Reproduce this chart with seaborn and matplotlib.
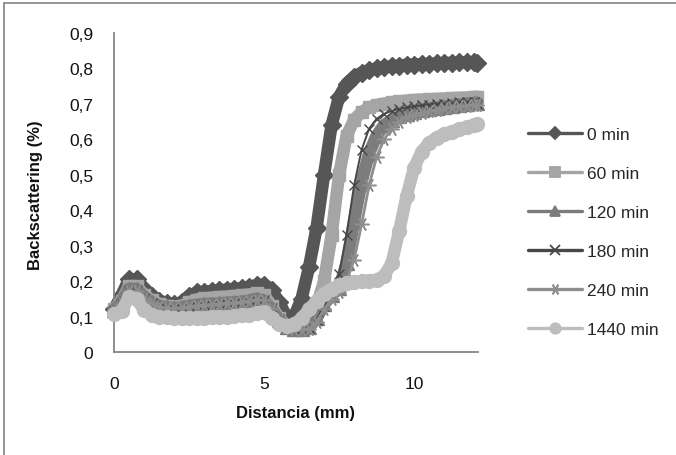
import numpy as np
import pandas as pd
import matplotlib
matplotlib.use("Agg")
import matplotlib.pyplot as plt
from matplotlib.lines import Line2D
import seaborn as sns

# Backscattering profiles along the measuring cell, one per storage time
distance_mm = [0.0, 0.25, 0.5, 0.75, 1.0, 1.25, 1.5, 1.75, 2.0, 2.25,
               2.5, 2.75, 3.0, 3.25, 3.5, 3.75, 4.0, 4.25, 4.5, 4.75,
               5.0, 5.25, 5.5, 5.75, 6.0, 6.25, 6.5, 6.75, 7.0, 7.25,
               7.5, 7.75, 8.0, 8.25, 8.5, 8.75, 9.0, 9.25, 9.5, 9.75,
               10.0, 10.25, 10.5, 10.75, 11.0, 11.25, 11.5, 11.75, 12.0, 12.1]

series_labels = ["0 min", "60 min", "120 min", "180 min", "240 min", "1440 min"]

bs_0 = [0.120, 0.160, 0.205, 0.205, 0.178, 0.158, 0.145, 0.138, 0.135, 0.140,
        0.158, 0.168, 0.170, 0.172, 0.174, 0.176, 0.178, 0.180, 0.184, 0.189,
        0.190, 0.175, 0.140, 0.100, 0.100, 0.150, 0.240, 0.350, 0.500, 0.640,
        0.720, 0.757, 0.776, 0.788, 0.795, 0.800, 0.803, 0.806, 0.808, 0.810,
        0.811, 0.812, 0.813, 0.814, 0.815, 0.816, 0.817, 0.817, 0.818, 0.815]
bs_60 = [0.120, 0.145, 0.185, 0.185, 0.162, 0.146, 0.136, 0.130, 0.128, 0.130,
         0.140, 0.148, 0.151, 0.153, 0.155, 0.156, 0.158, 0.160, 0.162, 0.166,
         0.160, 0.130, 0.095, 0.075, 0.070, 0.072, 0.090, 0.130, 0.200, 0.330,
         0.500, 0.610, 0.655, 0.677, 0.690, 0.697, 0.701, 0.704, 0.707, 0.709,
         0.711, 0.712, 0.713, 0.714, 0.715, 0.716, 0.717, 0.718, 0.719, 0.720]
bs_120 = [0.118, 0.140, 0.178, 0.178, 0.155, 0.140, 0.130, 0.126, 0.124, 0.126,
          0.130, 0.133, 0.135, 0.136, 0.137, 0.139, 0.140, 0.142, 0.145, 0.150,
          0.145, 0.120, 0.090, 0.070, 0.065, 0.064, 0.070, 0.095, 0.135, 0.160,
          0.180, 0.250, 0.370, 0.480, 0.560, 0.610, 0.640, 0.655, 0.665, 0.672,
          0.678, 0.682, 0.686, 0.689, 0.692, 0.695, 0.697, 0.700, 0.702, 0.703]
bs_180 = [0.118, 0.138, 0.175, 0.175, 0.152, 0.138, 0.128, 0.124, 0.123, 0.125,
          0.128, 0.131, 0.133, 0.134, 0.136, 0.138, 0.139, 0.141, 0.144, 0.150,
          0.148, 0.125, 0.092, 0.070, 0.064, 0.063, 0.068, 0.090, 0.130, 0.165,
          0.220, 0.330, 0.470, 0.570, 0.630, 0.658, 0.672, 0.680, 0.686, 0.690,
          0.694, 0.696, 0.698, 0.700, 0.701, 0.702, 0.704, 0.705, 0.706, 0.700]
bs_240 = [0.117, 0.136, 0.172, 0.172, 0.150, 0.137, 0.128, 0.124, 0.123, 0.125,
          0.128, 0.131, 0.133, 0.134, 0.135, 0.137, 0.139, 0.141, 0.144, 0.148,
          0.146, 0.122, 0.090, 0.070, 0.064, 0.063, 0.066, 0.085, 0.120, 0.150,
          0.170, 0.200, 0.260, 0.360, 0.470, 0.550, 0.600, 0.630, 0.650, 0.662,
          0.670, 0.675, 0.680, 0.684, 0.688, 0.690, 0.693, 0.695, 0.697, 0.697]
bs_1440 = [0.108, 0.115, 0.155, 0.150, 0.118, 0.105, 0.100, 0.098, 0.096, 0.095,
           0.095, 0.096, 0.097, 0.098, 0.099, 0.100, 0.101, 0.103, 0.105, 0.110,
           0.112, 0.095, 0.080, 0.074, 0.078, 0.095, 0.120, 0.145, 0.165, 0.178,
           0.188, 0.195, 0.198, 0.200, 0.201, 0.203, 0.215, 0.250, 0.340, 0.440,
           0.520, 0.565, 0.590, 0.605, 0.615, 0.622, 0.628, 0.634, 0.640, 0.643]

y_ticks = [0.0, 0.1, 0.2, 0.3, 0.4, 0.5, 0.6, 0.7, 0.8, 0.9]
y_tick_labels = ["0", "0,1", "0,2", "0,3", "0,4", "0,5", "0,6", "0,7", "0,8", "0,9"]
x_ticks = [0, 5, 10]
x_tick_labels = ["0", "5", "10"]

profiles = [bs_0, bs_60, bs_120, bs_180, bs_240, bs_1440]

# marker, colour, band width, marker size, marker edge width, legend marker size
asterisk = (6, 2, 90)
styles = [
    ("D", "#565656", 9.0, 9.0, 1.0, 6.0),
    ("s", "#a5a5a5", 9.0, 9.0, 1.0, 7.0),
    ("^", "#7c7c7c", 9.0, 10.0, 1.0, 6.5),
    ("x", "#474747", 1.4, 7.5, 1.0, 6.5),
    (asterisk, "#8e8e8e", 2.0, 10.0, 1.1, 8.0),
    ("o", "#bdbdbd", 9.0, 10.0, 1.0, 7.5),
]

sns.set_theme(style="white")
plt.rcParams["font.family"] = ["Liberation Sans", "DejaVu Sans"]

fig = plt.figure(figsize=(6.76, 4.56), dpi=100)
ax = fig.add_axes([114 / 676, 1 - 353 / 456, 364 / 676, 319 / 456])

for i, (label, values, (mk, col, lw, ms, mew, _)) in enumerate(zip(series_labels, profiles, styles)):
    df = pd.DataFrame({"Distancia": distance_mm, "Backscattering": values})
    sns.lineplot(data=df, x="Distancia", y="Backscattering", ax=ax,
                 estimator=None, sort=False, color=col, linewidth=lw,
                 marker=mk, markersize=ms, markeredgecolor=col,
                 markeredgewidth=mew, legend=False, clip_on=False,
                 zorder=2 + i, solid_joinstyle="round",
                 solid_capstyle="round")

ax.set_xlim(0, 12.13)
ax.set_ylim(0, 0.9)
ax.set_yticks(y_ticks)
ax.set_yticklabels(y_tick_labels)
ax.set_xticks(x_ticks)
ax.set_xticklabels(x_tick_labels)
ax.tick_params(axis="both", length=0, labelsize=12.5, colors="#111111")
ax.tick_params(axis="y", pad=15)
ax.tick_params(axis="x", pad=17)

for side in ("top", "right"):
    ax.spines[side].set_visible(False)
for side in ("left", "bottom"):
    ax.spines[side].set_color("#868686")
    ax.spines[side].set_linewidth(1.3)

ax.set_xlabel("Distancia (mm)", fontsize=12, fontweight="bold", color="#111111")
ax.set_ylabel("Backscattering (%)", fontsize=12, fontweight="bold", color="#111111")
ax.xaxis.set_label_coords(0.5, -(406 - 353) / 319)
ax.yaxis.set_label_coords((43 - 114) / 364, (353 - 195) / 319)

handles = []
for mk, col, _, _, _, lms in styles:
    handles.append(Line2D([], [], color=col, linewidth=2.4, marker=mk,
                          markersize=lms, markeredgecolor=col, markeredgewidth=1.3))
fig.legend(handles, series_labels, loc="center left",
           bbox_to_anchor=(528 / 676, 1 - 233 / 456), frameon=False,
           fontsize=12.5, handlelength=3.1, handletextpad=0.3,
           labelspacing=1.38, borderpad=0, borderaxespad=0)

# chart-area frame
frame_col = "#8c8c8c"
fig.add_artist(Line2D([4 / 676, 1.0], [1 - 4 / 456, 1 - 4 / 456],
                      transform=fig.transFigure, color=frame_col, linewidth=1.3))
fig.add_artist(Line2D([4 / 676, 4 / 676], [0.0, 1 - 4 / 456],
                      transform=fig.transFigure, color=frame_col, linewidth=1.3))

fig.savefig("out.png", dpi=100)
